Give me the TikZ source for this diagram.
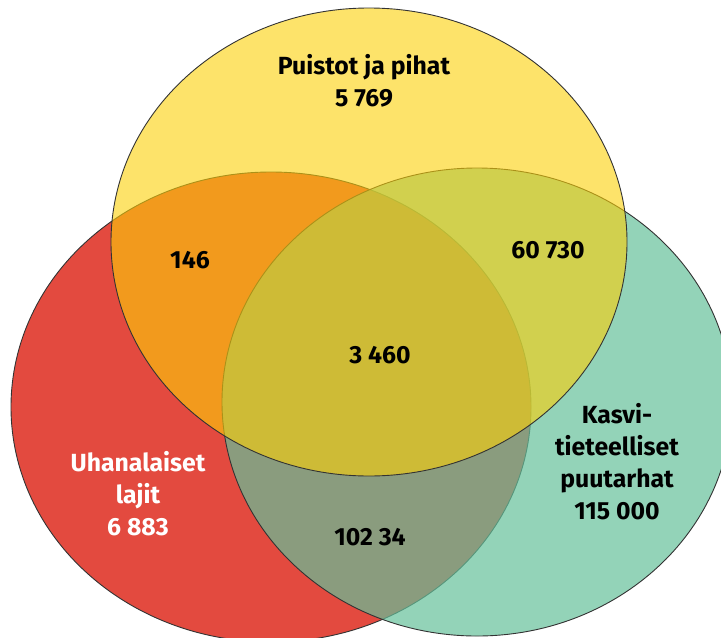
\documentclass[tikz,border=0pt]{standalone}
\usepackage{fontspec}
\setmainfont{Fira Sans}
\usetikzlibrary{positioning}

\definecolor{redset}{RGB}{227,74,63}
\definecolor{tealset}{RGB}{101,192,154}
\definecolor{yellowset}{RGB}{252,208,7}

\begin{document}
\begin{tikzpicture}[x=0.5pt,y=-0.5pt]
    \tikzstyle{set}=[draw=black!80, line width=0.45pt]
    \tikzstyle{count}=[font=\fontsize{12.4}{16}\selectfont\bfseries, align=center, inner sep=0pt]

    \useasboundingbox (0,0) rectangle (721,637);

    % the three sets
    \coordinate (uhan) at (271,407);
    \coordinate (kasvi) at (477,402);
    \coordinate (puisto) at (369,242);

    \begin{scope}
      \clip (0,0) rectangle (721,637);
      \path[set, fill=redset] (uhan) ellipse [x radius=130pt, y radius=117.5pt];
      \path[set, fill=tealset, fill opacity=0.7] (kasvi) ellipse [x radius=127.5pt, y radius=117pt];
      \path[set, fill=yellowset, fill opacity=0.6] (puisto) ellipse [x radius=129pt, y radius=117pt];
    \end{scope}

    % counts
    \node[count]             (p)  at (364,81)  {Puistot ja pihat\\5 769};
    \node[count]             (pu) at (190,260) {146};
    \node[count]             (pk) at (548,250) {60 730};
    \node[count]             (all) at (380,355) {3 460};
    \node[count, text=white] (u)  at (138,494) {Uhanalaiset\\lajit\\6 883};
    \node[count]             (k)  at (617,462) {Kasvi-\\tieteelliset\\puutarhat\\115 000};
    \node[count]             (uk) at (370,537) {102 34};

\end{tikzpicture}
\end{document}
